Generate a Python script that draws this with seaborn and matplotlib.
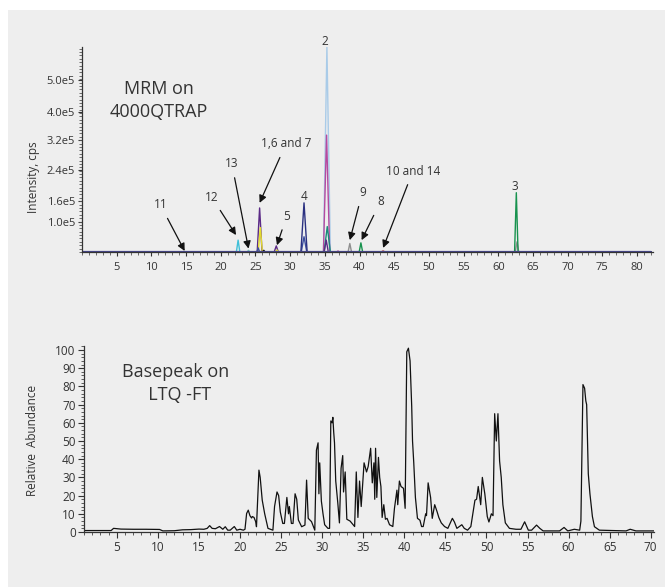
import numpy as np
import pandas as pd
import matplotlib
matplotlib.use("Agg")
import matplotlib.pyplot as plt
import seaborn as sns
from matplotlib.ticker import MultipleLocator, FixedLocator
from matplotlib.patches import Rectangle

# ---------------- MRM traces (time in min, intensity in cps) ----------------
lightblue_t = [0, 34.8, 35.3, 35.8, 82]
lightblue_y = [0, 0, 6.05e5, 0, 0]
magenta_t = [0, 34.8, 35.25, 35.7, 36.7, 36.9, 37.1, 82]
magenta_y = [0, 0, 3.45e5, 0, 0, 0.03e5, 0, 0]
teal_t = [0, 34.9, 35.35, 35.8, 82]
teal_y = [0, 0, 0.75e5, 0, 0]
purple_t = [0, 25.25, 25.6, 25.95, 27.7, 28.0, 28.3, 34.9, 35.2, 35.5, 82]
purple_y = [0, 0, 1.3e5, 0, 0, 0.18e5, 0, 0, 0.35e5, 0, 0]
yellow_t = [0, 25.4, 25.7, 26.0, 27.9, 28.1, 28.3, 82]
yellow_y = [0, 0, 0.72e5, 0, 0, 0.06e5, 0, 0]
cyan_t = [0, 22.25, 22.5, 22.75, 82]
cyan_y = [0, 0, 0.35e5, 0, 0]
paleteal_t = [0, 23.8, 24.0, 24.2, 82]
paleteal_y = [0, 0, 0.05e5, 0, 0]
gray_t = [0, 38.35, 38.6, 38.85, 62.45, 62.7, 62.95, 82]
gray_y = [0, 0, 0.25e5, 0, 0, 0.3e5, 0, 0]
green_t = [0, 39.95, 40.2, 40.45, 62.35, 62.6, 62.85, 82]
green_y = [0, 0, 0.27e5, 0, 0, 1.75e5, 0, 0]
darkred_t = [0, 43.1, 43.4, 43.7, 82]
darkred_y = [0, 0, 0.03e5, 0, 0]
pink_t = [0, 14.6, 14.8, 15.0, 82]
pink_y = [0, 0, 0.01e5, 0, 0]
black_t = [0, 26.0, 26.2, 26.4, 82]
black_y = [0, 0, 0.05e5, 0, 0]
navy2_t = [0, 25.2, 25.4, 25.6, 31.6, 32.0, 32.4, 82]
navy2_y = [0, 0, 0.12e5, 0, 0, 0.45e5, 0, 0]
navy_t = [0, 31.55, 32.0, 32.45, 82]
navy_y = [0, 0, 1.45e5, 0, 0]
baseline_t = [0, 82]
baseline_y = [0, 0]

mrm_ticks = [5, 10, 15, 20, 25, 30, 35, 40, 45, 50, 55, 60, 65, 70, 75, 80]
mrm_ytick_pos = [0.885e5, 1.504e5, 2.41e5, 3.295e5, 4.13e5, 5.065e5]
mrm_ytick_labels = ["1.0e5", "1.6e5", "2.4e5", "3.2e5", "4.0e5", "5.0e5"]

# peak labels: text, text position (t, y), arrow head (t, y) or None
peak_labels = ["11", "12", "13", "1,6 and 7", "5", "9", "8", "10 and 14", "4", "2", "3"]
peak_text_t = [11.3, 18.7, 21.6, 29.4, 29.5, 40.4, 43.0, 47.7, 32.0, 35.0, 62.4]
peak_text_y = [1.39e5, 1.62e5, 2.6e5, 3.19e5, 1.06e5, 1.75e5, 1.48e5, 2.39e5, 1.63e5, 6.2e5, 1.92e5]
peak_head_t = [14.8, 22.2, 24.0, 25.6, 28.1, 38.6, 40.3, 43.4, None, None, None]
peak_head_y = [0.03e5, 0.5e5, 0.1e5, 1.45e5, 0.2e5, 0.35e5, 0.35e5, 0.12e5, None, None, None]

# ---------------- Base peak chromatogram (LTQ-FT) ----------------
bp_time = [1.0, 4.3, 4.6, 5.5, 7.0, 8.5, 10.2, 10.6, 12.0, 13.0,
           14.0, 15.0, 15.6, 16.0, 16.3, 16.6, 17.0, 17.5, 17.9, 18.2,
           18.5, 18.8, 19.3, 19.6, 20.0, 20.4, 20.6, 20.8, 21.0, 21.2,
           21.4, 21.5, 21.7, 21.9, 22.0, 22.3, 22.45, 22.7, 23.0, 23.4,
           24.0, 24.2, 24.5, 24.7, 24.9, 25.2, 25.4, 25.7, 25.9, 26.0,
           26.25, 26.45, 26.7, 26.9, 27.1, 27.5, 27.9, 28.1, 28.3, 28.7,
           29.1, 29.3, 29.5, 29.6, 29.7, 29.9, 30.1, 30.3, 30.7, 30.9,
           31.05, 31.2, 31.3, 31.4, 31.5, 31.65, 31.9, 32.1, 32.3, 32.5,
           32.6, 32.8, 33.0, 33.4, 33.95, 34.15, 34.35, 34.55, 34.75, 35.1,
           35.4, 35.6, 35.9, 36.1, 36.3, 36.4, 36.5, 36.65, 36.85, 37.0,
           37.15, 37.3, 37.5, 37.7, 37.9, 38.2, 38.6, 38.8, 39.1, 39.2,
           39.4, 39.6, 39.9, 40.1, 40.3, 40.5, 40.7, 40.9, 41.0, 41.15,
           41.35, 41.6, 41.9, 42.1, 42.3, 42.6, 42.7, 42.9, 43.2, 43.4,
           43.7, 44.0, 44.2, 44.5, 44.9, 45.3, 45.85, 46.1, 46.4, 46.7,
           47.0, 47.3, 47.7, 48.1, 48.6, 48.8, 49.0, 49.3, 49.5, 49.8,
           50.1, 50.3, 50.6, 50.8, 51.0, 51.2, 51.4, 51.6, 51.8, 52.0,
           52.3, 52.8, 53.6, 54.2, 54.65, 55.1, 55.5, 56.1, 56.5, 56.9,
           58.9, 59.45, 59.9, 60.7, 61.35, 61.5, 61.75, 61.95, 62.1, 62.2,
           62.4, 62.6, 62.9, 63.15, 63.75, 67.0, 67.5, 68.2, 70.4]
bp_abund = [0.8, 0.8, 2.0, 1.6, 1.5, 1.5, 1.4, 0.6, 0.7, 1.2,
            1.3, 1.6, 1.5, 2.0, 3.5, 2.0, 1.8, 3.0, 1.5, 2.9,
            1.0, 1.0, 3.0, 1.0, 1.5, 1.0, 1.5, 10.2, 12.0, 9.0,
            7.7, 8.5, 8.0, 5.7, 2.9, 34.0, 30.0, 17.5, 10.0, 2.0,
            1.0, 14.0, 22.0, 20.0, 11.0, 4.7, 4.7, 19.0, 10.0, 14.0,
            4.7, 4.7, 21.0, 18.0, 6.6, 2.9, 3.8, 28.5, 7.5, 5.7,
            1.0, 45.0, 49.0, 21.0, 38.0, 17.0, 10.0, 4.0, 2.0, 2.0,
            61.0, 60.0, 63.0, 55.0, 49.0, 28.0, 16.0, 5.0, 35.0, 42.0,
            22.0, 33.0, 7.0, 6.0, 3.0, 33.0, 8.0, 28.0, 14.0, 38.0,
            33.0, 36.0, 46.0, 27.0, 38.0, 18.0, 46.0, 19.0, 41.0, 30.0,
            25.0, 8.0, 15.0, 7.0, 7.5, 4.0, 3.0, 13.0, 23.0, 15.0,
            28.0, 25.0, 24.0, 13.0, 99.0, 101.0, 94.0, 69.0, 50.0, 38.0,
            19.0, 7.5, 6.5, 3.0, 3.0, 10.0, 9.0, 27.0, 19.0, 7.5,
            15.0, 11.0, 8.0, 5.0, 3.0, 2.0, 7.5, 5.5, 2.0, 3.0,
            4.0, 2.0, 1.0, 3.0, 17.5, 18.0, 25.0, 15.0, 30.0, 21.0,
            8.5, 5.5, 10.0, 9.0, 65.0, 50.0, 65.0, 39.0, 30.0, 15.0,
            5.0, 2.0, 1.5, 1.5, 5.6, 1.0, 1.0, 3.8, 2.0, 0.6,
            0.6, 2.5, 0.6, 1.5, 1.0, 6.0, 81.0, 79.0, 72.0, 70.0,
            32.0, 21.0, 8.5, 2.9, 1.0, 0.6, 1.5, 0.6, 0.6]
bp_ticks = [5, 10, 15, 20, 25, 30, 35, 40, 45, 50, 55, 60, 65, 70]
bp_yticks = [0, 10, 20, 30, 40, 50, 60, 70, 80, 90, 100]

trace_names = ["lightblue", "magenta", "teal", "purple", "yellow", "cyan", "paleteal",
               "gray", "green", "darkred", "pink", "black", "navy2", "navy"]
trace_t = [lightblue_t, magenta_t, teal_t, purple_t, yellow_t, cyan_t, paleteal_t,
           gray_t, green_t, darkred_t, pink_t, black_t, navy2_t, navy_t]
trace_y = [lightblue_y, magenta_y, teal_y, purple_y, yellow_y, cyan_y, paleteal_y,
           gray_y, green_y, darkred_y, pink_y, black_y, navy2_y, navy_y]
palette = {"lightblue": "#a9cbe8", "magenta": "#b54aa0", "teal": "#1a8c7a",
           "purple": "#5b2a86", "yellow": "#e3dc2b", "cyan": "#3fc0d8",
           "paleteal": "#7cc8c0", "gray": "#8e8e8e", "green": "#17924e",
           "darkred": "#a3282e", "pink": "#e58ab8", "black": "#111111",
           "navy2": "#3c4fa0", "navy": "#2a3080"}

rows = []
for n, ts, ys in zip(trace_names, trace_t, trace_y):
    for t, y in zip(ts, ys):
        rows.append((n, t, y))
mrm_df = pd.DataFrame(rows, columns=["trace", "time", "intensity"])
base_df = pd.DataFrame({"time": baseline_t, "intensity": baseline_y})
bp_df = pd.DataFrame({"time": bp_time, "abund": bp_abund})

# ---------------- Figure ----------------
sns.set_theme(style="ticks")
plt.rcParams["font.family"] = ["Open Sans", "DejaVu Sans"]
BG = "#eeeeee"
TXT = "#333333"

fig = plt.figure(figsize=(6.65, 5.87), dpi=100, facecolor="white")
bg = Rectangle((8 / 665, 0), 1 - 8 / 665, 1 - 10 / 587,
               transform=fig.transFigure, facecolor=BG, edgecolor="none", zorder=-10)
fig.add_artist(bg)

ax1 = fig.add_axes([82 / 665, 1 - 252 / 587, (653 - 82) / 665, (252 - 47) / 587])
ax2 = fig.add_axes([84 / 665, 1 - 532 / 587, (654 - 84) / 665, (532 - 346) / 587])
for ax in (ax1, ax2):
    ax.set_facecolor("none")
    ax.set_zorder(1)
    for s in ("top", "right"):
        ax.spines[s].set_visible(False)
    ax.spines["left"].set_color("#333333")
    ax.spines["bottom"].set_color("#333333")
    ax.spines["left"].set_linewidth(0.9)
    ax.spines["bottom"].set_linewidth(0.9)

# top panel
sns.lineplot(data=mrm_df, x="time", y="intensity", hue="trace", palette=palette,
             hue_order=trace_names, estimator=None, sort=False, lw=1.0,
             legend=False, ax=ax1)
sns.lineplot(data=base_df, x="time", y="intensity", color="#46468a", lw=1.6,
             estimator=None, sort=False, legend=False, ax=ax1)
ax1.set_xlim(0, 82.3)
ax1.set_ylim(0, 6.05e5)
ax1.xaxis.set_major_locator(FixedLocator(mrm_ticks))
ax1.xaxis.set_minor_locator(MultipleLocator(1))
ax1.yaxis.set_major_locator(FixedLocator(mrm_ytick_pos))
ax1.set_yticklabels(mrm_ytick_labels)
ax1.yaxis.set_minor_locator(MultipleLocator(0.1e5))
ax1.set_xlabel("")
ax1.set_ylabel("")
ax1.tick_params(axis="both", which="major", direction="out", length=3, width=0.8,
                labelsize=8, colors="#333333", labelcolor=TXT, pad=2)
ax1.tick_params(axis="both", which="minor", direction="out", length=2, width=0.6,
                colors="#555555")
ax1.tick_params(axis="x", which="major", pad=4.5)

for lab, tx, ty, hx, hy in zip(peak_labels, peak_text_t, peak_text_y, peak_head_t, peak_head_y):
    if hx is None:
        ax1.text(tx, ty, lab, ha="center", va="center", fontsize=8.5, color=TXT,
                 clip_on=False)
    else:
        ax1.annotate(lab, xy=(hx, hy), xytext=(tx, ty), ha="center", va="center",
                     fontsize=8.5, color=TXT,
                     arrowprops=dict(arrowstyle="-|>", color="#111111", lw=0.9,
                                     mutation_scale=11, shrinkA=3, shrinkB=0))
ax1.text(0.135, 0.74, "MRM on\n4000QTRAP", transform=ax1.transAxes, ha="center",
         va="center", fontsize=13, color=TXT, linespacing=1.35)

# bottom panel
sns.lineplot(data=bp_df, x="time", y="abund", color="#111111", lw=0.9,
             estimator=None, sort=False, legend=False, ax=ax2)
ax2.set_xlim(1.0, 70.4)
ax2.set_ylim(0, 102.2)
ax2.xaxis.set_major_locator(FixedLocator(bp_ticks))
ax2.xaxis.set_minor_locator(MultipleLocator(1))
ax2.yaxis.set_major_locator(FixedLocator(bp_yticks))
ax2.yaxis.set_minor_locator(MultipleLocator(2))
ax2.set_xlabel("")
ax2.set_ylabel("")
ax2.tick_params(axis="both", which="major", direction="out", length=4, width=0.8,
                labelsize=8.5, colors="#333333", labelcolor=TXT, pad=2)
ax2.tick_params(axis="both", which="minor", direction="out", length=2.5, width=0.6,
                colors="#444444")
ax2.tick_params(axis="x", which="major", pad=2.5)
ax2.text(0.16, 0.8, "Basepeak on\n  LTQ -FT", transform=ax2.transAxes, ha="center",
         va="center", fontsize=13, color=TXT, linespacing=1.35)

fig.text(33 / 665, 1 - 177 / 587, "Intensity, cps", rotation=90, ha="center",
         va="center", fontsize=8.5, color=TXT)
fig.text(33 / 665, 1 - 440 / 587, "Relative  Abundance", rotation=90, ha="center",
         va="center", fontsize=8.5, color=TXT)

fig.savefig("out.png", dpi=100, facecolor="white")
